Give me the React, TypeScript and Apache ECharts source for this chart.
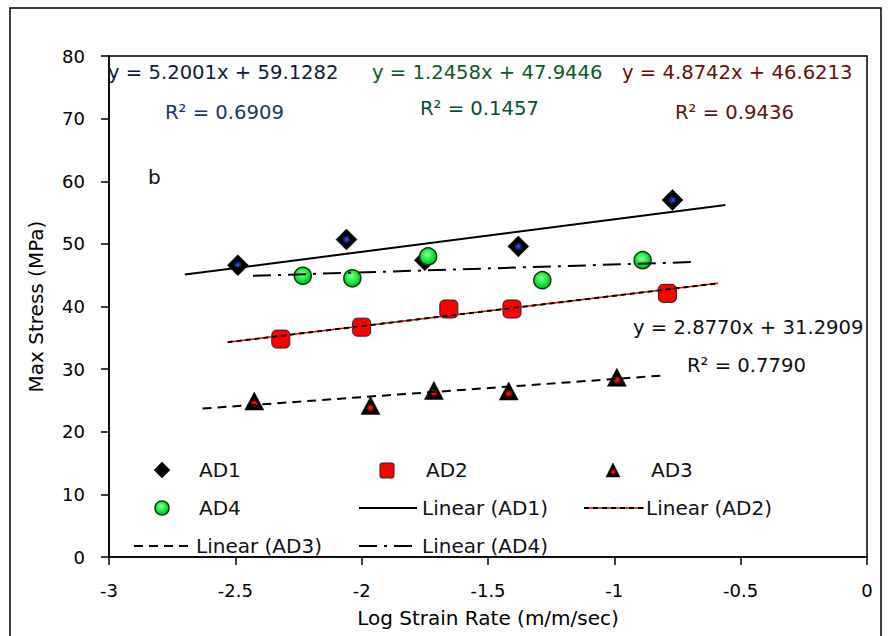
import React, { useEffect, useRef } from 'react';
import * as echarts from 'echarts';

// ---- data ----
const ad1X = [-2.49, -2.06, -1.75, -1.38, -0.77];
const ad1Y = [46.6, 50.7, 47.4, 49.6, 57.0];
const ad2X = [-2.32, -2.0, -1.655, -1.405, -0.79];
const ad2Y = [34.8, 36.7, 39.6, 39.6, 42.1];
const ad3X = [-2.425, -1.965, -1.714, -1.418, -0.99];
const ad3Y = [24.9, 24.2, 26.6, 26.5, 28.7];
const ad4X = [-2.233, -2.037, -1.737, -1.285, -0.888];
const ad4Y = [44.9, 44.5, 48.0, 44.2, 47.4];

// trend line end points
const trendAD1 = [[-2.70, 45.1], [-0.56, 56.2]];
const trendAD2 = [[-2.53, 34.3], [-0.59, 43.7]];
const trendAD3 = [[-2.63, 23.7], [-0.80, 29.0]];
const trendAD4 = [[-2.43, 44.9], [-0.69, 47.1]];

const xAxisRange = { min: -3, max: 0, interval: 0.5 };
const yAxisRange = { min: 0, max: 80, interval: 10 };

const equations = [
  { eq: 'y = 5.2001x + 59.1282', r2: 'R² = 0.6909', eqColor: '#0d1b3e', r2Color: '#1b3566' },
  { eq: 'y = 1.2458x + 47.9446', r2: 'R² = 0.1457', eqColor: '#0a5a2a', r2Color: '#0b4d33' },
  { eq: 'y = 4.8742x + 46.6213', r2: 'R² = 0.9436', eqColor: '#6e0b0b', r2Color: '#5e1212' },
  { eq: 'y = 2.8770x + 31.2909', r2: 'R² = 0.7790', eqColor: '#111111', r2Color: '#111111' },
];

const FONT = 'DejaVu Sans';

const zip = (xs: number[], ys: number[]) => xs.map((x, i) => [x, ys[i]]);

const diamondFill: any = {
  type: 'radial', x: 0.5, y: 0.5, r: 0.5,
  colorStops: [
    { offset: 0, color: '#3a5cff' },
    { offset: 0.22, color: '#1a2a90' },
    { offset: 0.42, color: '#000000' },
    { offset: 1, color: '#000000' },
  ],
};
const triFill: any = {
  type: 'radial', x: 0.5, y: 0.64, r: 0.5,
  colorStops: [
    { offset: 0, color: '#ff1a1a' },
    { offset: 0.25, color: '#d00000' },
    { offset: 0.42, color: '#000000' },
    { offset: 1, color: '#000000' },
  ],
};
const circleFill: any = {
  type: 'radial', x: 0.45, y: 0.4, r: 0.6,
  colorStops: [
    { offset: 0, color: '#9cffa8' },
    { offset: 0.45, color: '#2cf04a' },
    { offset: 1, color: '#00b81e' },
  ],
};

const DASH_AD2 = [5, 4];
const DASH_AD3 = [9, 6];
const DASH_AD4 = [18, 7, 3, 7];

export default function App() {
  const ref = useRef<HTMLDivElement>(null);

  useEffect(() => {
    document.body.style.margin = '0';
    const chart = echarts.init(ref.current!, null, { renderer: 'svg' });

    const txt = (text: string, x: number, y: number, fill: string, size = 19.6) => ({
      type: 'text',
      x,
      y,
      silent: true,
      z: 20,
      style: {
        text,
        fill,
        fontSize: size,
        fontFamily: FONT,
        textVerticalAlign: 'middle',
        verticalAlign: 'middle',
        textAlign: 'left',
        align: 'left',
      },
    });

    const legendRow1 = 470;
    const legendRow2 = 508;
    const legendRow3 = 546;

    const graphic: any[] = [
      {
        type: 'rect',
        silent: true,
        z: 0,
        shape: { x: 10, y: 8, width: 871, height: 650 },
        style: { fill: 'none', stroke: '#000', lineWidth: 1.5 },
      },
      // equations
      txt(equations[0].eq, 108, 72, equations[0].eqColor),
      txt(equations[0].r2, 165, 112, equations[0].r2Color),
      txt(equations[1].eq, 372, 72, equations[1].eqColor),
      txt(equations[1].r2, 420, 108, equations[1].r2Color),
      txt(equations[2].eq, 622, 72, equations[2].eqColor),
      txt(equations[2].r2, 675, 112, equations[2].r2Color),
      txt(equations[3].eq, 633, 327, equations[3].eqColor),
      txt(equations[3].r2, 687, 365, equations[3].r2Color),
      txt('b', 148, 177, '#111', 20),
      // legend
      {
        type: 'polygon', silent: true, z: 20,
        shape: { points: [[162, 462], [170, 470], [162, 478], [154, 470]] },
        style: { fill: '#000', stroke: '#000', lineWidth: 0.5 },
      },
      txt('AD1', 199, legendRow1, '#111', 20),
      {
        type: 'rect', silent: true, z: 20,
        shape: { x: 380, y: 463, width: 14, height: 15, r: 2 },
        style: { fill: '#ff0000', stroke: '#222', lineWidth: 1 },
      },
      txt('AD2', 426, legendRow1, '#111', 20),
      {
        type: 'polygon', silent: true, z: 20,
        shape: { points: [[613, 463], [620, 477], [606, 477]] },
        style: { fill: triFill, stroke: '#000', lineWidth: 0.5 },
      },
      txt('AD3', 651, legendRow1, '#111', 20),
      {
        type: 'circle', silent: true, z: 20,
        shape: { cx: 162, cy: legendRow2, r: 7 },
        style: { fill: circleFill, stroke: '#0a3a10', lineWidth: 1.5 },
      },
      txt('AD4', 199, legendRow2, '#111', 20),
      {
        type: 'line', silent: true, z: 20,
        shape: { x1: 359, y1: legendRow2, x2: 417, y2: legendRow2 },
        style: { stroke: '#000', lineWidth: 2 },
      },
      txt('Linear (AD1)', 422, legendRow2, '#111', 20),
      {
        type: 'line', silent: true, z: 19,
        shape: { x1: 584, y1: legendRow2, x2: 644, y2: legendRow2 },
        style: { stroke: '#e00000', lineWidth: 1.5 },
      },
      {
        type: 'line', silent: true, z: 20,
        shape: { x1: 584, y1: legendRow2, x2: 644, y2: legendRow2 },
        style: { stroke: '#000', lineWidth: 2, lineDash: DASH_AD2 },
      },
      txt('Linear (AD2)', 646, legendRow2, '#111', 20),
      {
        type: 'line', silent: true, z: 20,
        shape: { x1: 134, y1: legendRow3, x2: 192, y2: legendRow3 },
        style: { stroke: '#000', lineWidth: 2, lineDash: DASH_AD3 },
      },
      txt('Linear (AD3)', 196, legendRow3, '#111', 20),
      {
        type: 'line', silent: true, z: 20,
        shape: { x1: 359, y1: legendRow3, x2: 417, y2: legendRow3 },
        style: { stroke: '#000', lineWidth: 2, lineDash: DASH_AD4 },
      },
      txt('Linear (AD4)', 422, legendRow3, '#111', 20),
    ];

    const axisCommon = {
      type: 'value' as const,
      splitLine: { show: false },
      axisLine: { show: true, onZero: false, lineStyle: { color: '#000', width: 1.5 } },
      axisTick: { show: true, inside: false, length: 8, lineStyle: { color: '#000', width: 1.5 } },
      axisLabel: { color: '#000', fontSize: 18, fontFamily: FONT, margin: 24 },
      nameLocation: 'middle' as const,
      nameTextStyle: { color: '#000', fontSize: 20, fontFamily: FONT },
    };

    chart.setOption({
      animation: false,
      backgroundColor: '#fff',
      grid: {
        left: 109, right: 21, top: 56, bottom: 79,
        show: true, borderColor: '#000', borderWidth: 1.5, backgroundColor: 'transparent',
      },
      xAxis: {
        ...axisCommon,
        ...xAxisRange,
        name: 'Log Strain Rate (m/m/sec)',
        nameGap: 51,
      },
      yAxis: {
        ...axisCommon,
        ...yAxisRange,
        name: 'Max Stress (MPa)',
        nameGap: 63,
      },
      graphic,
      series: [
        {
          type: 'line', name: 'Linear (AD1)', data: trendAD1, symbol: 'none', silent: true,
          lineStyle: { color: '#000', width: 2, type: 'solid' },
        },
        {
          type: 'line', name: 'AD2 trend underlay', data: trendAD2, symbol: 'none', silent: true,
          lineStyle: { color: '#e00000', width: 1.5, type: 'solid' },
        },
        {
          type: 'line', name: 'Linear (AD2)', data: trendAD2, symbol: 'none', silent: true,
          lineStyle: { color: '#000', width: 2, type: DASH_AD2 },
        },
        {
          type: 'line', name: 'Linear (AD3)', data: trendAD3, symbol: 'none', silent: true,
          lineStyle: { color: '#000', width: 2, type: DASH_AD3 },
        },
        {
          type: 'line', name: 'Linear (AD4)', data: trendAD4, symbol: 'none', silent: true,
          lineStyle: { color: '#000', width: 2, type: DASH_AD4 },
        },
        {
          type: 'scatter', name: 'AD1', data: zip(ad1X, ad1Y), symbol: 'diamond', symbolSize: 21,
          itemStyle: { color: diamondFill, borderColor: '#000', borderWidth: 0.5, opacity: 1 },
        },
        {
          type: 'scatter', name: 'AD2', data: zip(ad2X, ad2Y), symbol: 'roundRect', symbolSize: 18,
          itemStyle: { color: '#ff0000', borderColor: '#222', borderWidth: 1, opacity: 1 },
        },
        {
          type: 'scatter', name: 'AD3', data: zip(ad3X, ad3Y), symbol: 'triangle', symbolSize: [19, 18],
          itemStyle: { color: triFill, borderColor: '#000', borderWidth: 0.5, opacity: 1 },
        },
        {
          type: 'scatter', name: 'AD4', data: zip(ad4X, ad4Y), symbol: 'circle', symbolSize: 17,
          itemStyle: { color: circleFill, borderColor: '#0a3a10', borderWidth: 1.5, opacity: 1 },
        },
      ],
    });

    return () => chart.dispose();
  }, []);

  return <div ref={ref} style={{ width: 888, height: 636 }} />;
}
